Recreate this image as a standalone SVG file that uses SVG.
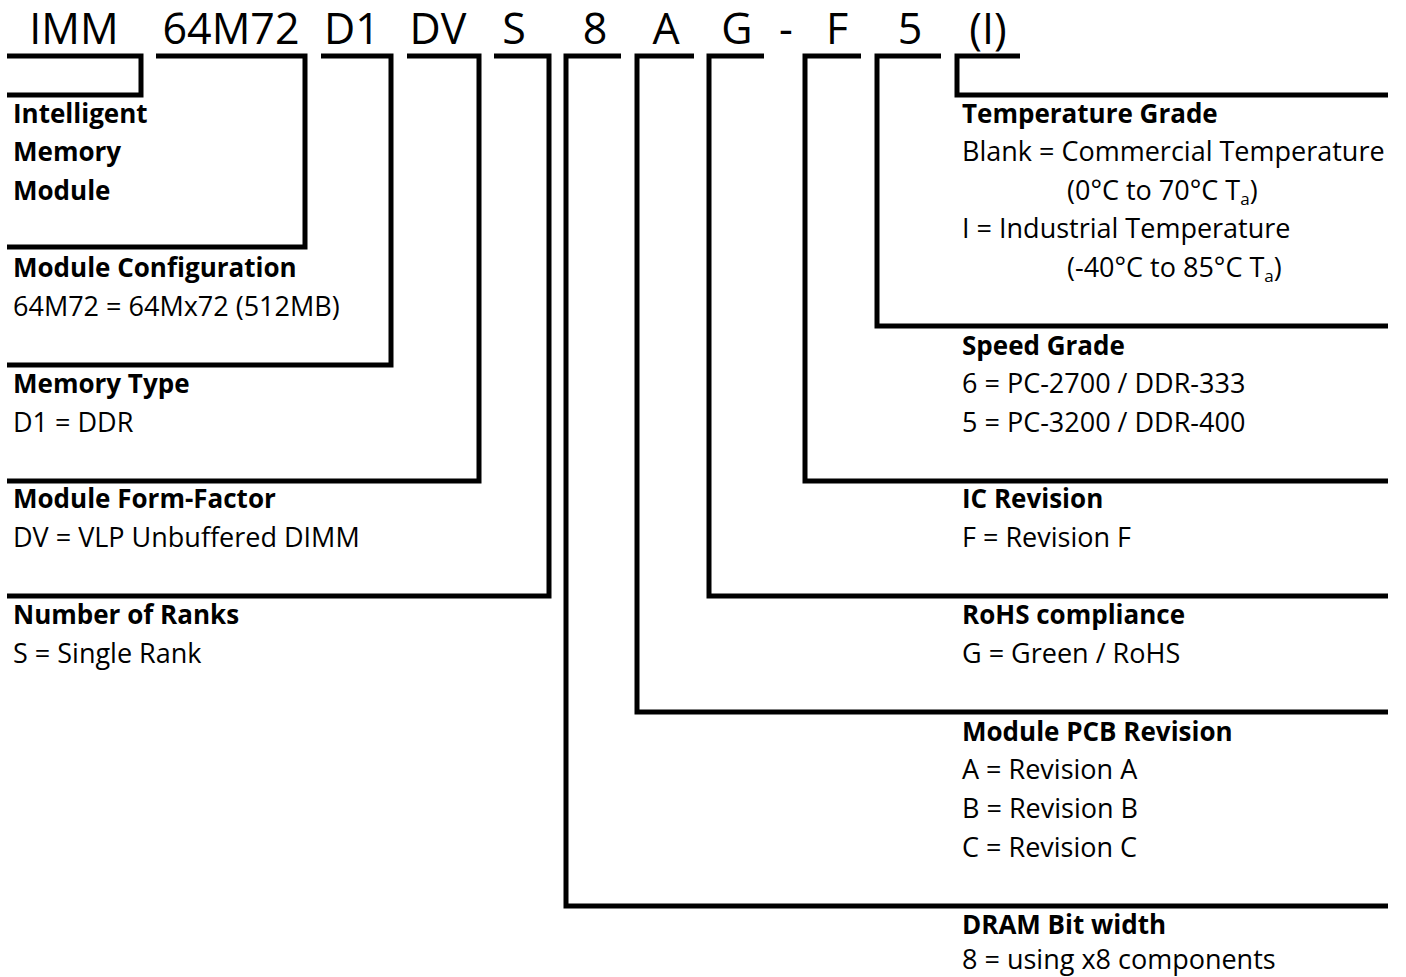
<svg xmlns="http://www.w3.org/2000/svg" width="1406" height="977" viewBox="0 0 1406 977">
<style>
.code{font-family:"Open Sans","Liberation Sans",sans-serif;font-size:43px;fill:#000;text-anchor:middle}
.t{font-family:"Open Sans","Liberation Sans",sans-serif;font-size:26px;font-weight:bold;fill:#000}
.d{font-family:"Open Sans","Liberation Sans",sans-serif;font-size:27px;fill:#000}
.sub{font-size:17px}
.ln{fill:none;stroke:#000;stroke-width:5;stroke-linejoin:miter;stroke-linecap:butt}
</style>
<rect width="1406" height="977" fill="#fff"/>
<g id="code">
<text class="code" x="74" y="44">IMM</text>
<text class="code" x="231" y="44">64M72</text>
<text class="code" x="352" y="44">D1</text>
<text class="code" x="438" y="44">DV</text>
<text class="code" x="514" y="44">S</text>
<text class="code" x="595" y="44">8</text>
<text class="code" x="666" y="44">A</text>
<text class="code" x="737" y="44">G</text>
<text class="code" x="786" y="44">-</text>
<text class="code" x="837" y="44">F</text>
<text class="code" x="910" y="44">5</text>
<text class="code" x="988" y="44">(I)</text>
</g>
<g id="connectors">
<path class="ln" d="M7,56 H141 V95 H7"/>
<path class="ln" d="M156,56 H305 V247 H7"/>
<path class="ln" d="M321,56 H391 V365 H7"/>
<path class="ln" d="M407,56 H479 V481 H7"/>
<path class="ln" d="M494,56 H549 V596 H7"/>
<path class="ln" d="M621,56 H566 V906 H1388"/>
<path class="ln" d="M694,56 H637 V712 H1388"/>
<path class="ln" d="M764,56 H709 V596 H1388"/>
<path class="ln" d="M861,56 H805 V481 H1388"/>
<path class="ln" d="M941,56 H877 V326 H1388"/>
<path class="ln" d="M1020,56 H957 V95 H1388"/>
</g>
<g id="imm">
<text class="t" x="13" y="123">Intelligent</text>
<text class="t" x="13" y="161">Memory</text>
<text class="t" x="13" y="200">Module</text>
</g>
<g id="config">
<text class="t" x="13" y="277">Module Configuration</text>
<text class="d" x="13" y="316">64M72 = 64Mx72 (512MB)</text>
</g>
<g id="memtype">
<text class="t" x="13" y="393">Memory Type</text>
<text class="d" x="13" y="432">D1 = DDR</text>
</g>
<g id="formfactor">
<text class="t" x="13" y="508">Module Form-Factor</text>
<text class="d" x="13" y="547">DV = VLP Unbuffered DIMM</text>
</g>
<g id="ranks">
<text class="t" x="13" y="624">Number of Ranks</text>
<text class="d" x="13" y="663">S = Single Rank</text>
</g>
<g id="temp">
<text class="t" x="962" y="123">Temperature Grade</text>
<text class="d" x="962" y="161">Blank = Commercial Temperature</text>
<text class="d" x="1067" y="200">(0°C to 70°C T<tspan class="sub" dy="5">a</tspan><tspan dy="-5">)</tspan></text>
<text class="d" x="962" y="238">I = Industrial Temperature</text>
<text class="d" x="1067" y="277">(-40°C to 85°C T<tspan class="sub" dy="5">a</tspan><tspan dy="-5">)</tspan></text>
</g>
<g id="speed">
<text class="t" x="962" y="355">Speed Grade</text>
<text class="d" x="962" y="393">6 = PC-2700 / DDR-333</text>
<text class="d" x="962" y="432">5 = PC-3200 / DDR-400</text>
</g>
<g id="icrev">
<text class="t" x="962" y="508">IC Revision</text>
<text class="d" x="962" y="547">F = Revision F</text>
</g>
<g id="rohs">
<text class="t" x="962" y="624">RoHS compliance</text>
<text class="d" x="962" y="663">G = Green / RoHS</text>
</g>
<g id="pcb">
<text class="t" x="962" y="741">Module PCB Revision</text>
<text class="d" x="962" y="779">A = Revision A</text>
<text class="d" x="962" y="818">B = Revision B</text>
<text class="d" x="962" y="857">C = Revision C</text>
</g>
<g id="bitwidth">
<text class="t" x="962" y="934">DRAM Bit width</text>
<text class="d" x="962" y="969">8 = using x8 components</text>
</g>
</svg>
